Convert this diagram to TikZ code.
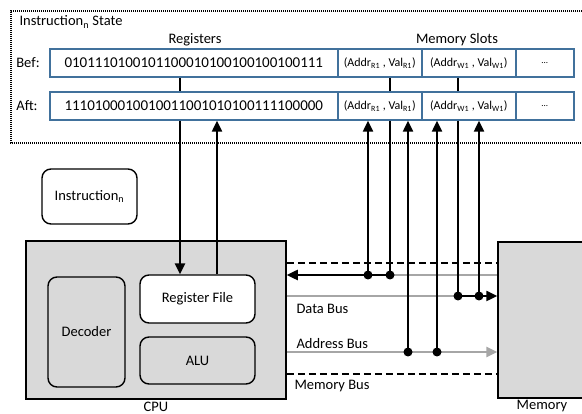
\documentclass[tikz,border=0pt]{standalone}
\usepackage{fontspec}
\setmainfont{Carlito}
\usetikzlibrary{arrows.meta}
\definecolor{cellblue}{HTML}{41719C}
\definecolor{busgray}{HTML}{A6A6A6}
\definecolor{cpugray}{HTML}{D9D9D9}
\begin{document}
\begin{tikzpicture}[x=1pt, y=-1pt, font=\fontsize{14.5}{17}\selectfont,
	cell/.style={draw=cellblue, line width=1.5pt, fill=white, minimum height=28pt, inner sep=0pt, anchor=west},
	blk/.style={draw, rounded corners=9pt, line width=1.4pt, inner sep=0pt},
	wire/.style={line width=2.4pt},
	bus/.style={line width=2.5pt, busgray},
	>={Triangle[length=11pt, width=10pt]}]
	\clip (0,0) rectangle (582,414);
	
	% Zustand der Instruktion
	\draw[line width=1.2pt, dash pattern=on 1pt off 1pt] (600,11) -- (11,11) -- (11,143) -- (600,143);
	\node[anchor=west] (title) at (16,22) {Instruction\textsubscript{n} State};
	\node (reglbl) at (195,40) {Registers};
	\node (memlbl) at (457,40) {Memory Slots};
	\node (beflbl) at (28,63) {Bef:};
	\node (aftlbl) at (27,106) {Aft:};
	
	% Bef
	\node[cell, minimum width=288pt, font=\fontsize{15}{17}\selectfont] (bReg) at (49,63) {0101110100101100010100100100100111};
	\node[cell, minimum width=84pt, font=\fontsize{12}{14}\selectfont] (bM1) at (337,63) {(Addr\textsubscript{R1} , Val\textsubscript{R1})};
	\node[cell, minimum width=94pt, font=\fontsize{12}{14}\selectfont] (bM2) at (421,63) {(Addr\textsubscript{W1} , Val\textsubscript{W1})};
	\node[cell, minimum width=58pt, font=\fontsize{9}{11}\selectfont] (bM3) at (515,63) {...};
	
	% Aft
	\node[cell, minimum width=288pt, font=\fontsize{15}{17}\selectfont] (aReg) at (49,106) {1110100010010011001010100111100000};
	\node[cell, minimum width=84pt, font=\fontsize{12}{14}\selectfont] (aM1) at (337,106) {(Addr\textsubscript{R1} , Val\textsubscript{R1})};
	\node[cell, minimum width=94pt, font=\fontsize{12}{14}\selectfont] (aM2) at (421,106) {(Addr\textsubscript{W1} , Val\textsubscript{W1})};
	\node[cell, minimum width=58pt, font=\fontsize{9}{11}\selectfont] (aM3) at (515,106) {...};
	
	% CPU und Speicher
	\node[blk, fill=white, minimum width=95pt, minimum height=55pt] (instr) at (89.5,196.5) {Instruction\textsubscript{n}};
	\node[draw, line width=1.5pt, fill=cpugray, minimum width=260pt, minimum height=158pt] (cpu) at (156,320) {};
	\node[draw, line width=1.5pt, fill=cpugray, minimum width=88pt, minimum height=156pt] (mem) at (542,320) {};
	\node[blk, minimum width=77pt, minimum height=110pt] (dec) at (86.5,332) {Decoder};
	\node[blk, fill=white, minimum width=115pt, minimum height=48pt] (rf) at (197.5,299) {Register File};
	\node[blk, minimum width=115pt, minimum height=47pt] (alu) at (197.5,360.5) {ALU};
	\node[inner sep=0pt] (cpulbl) at (156,406.5) {CPU};
	\node[inner sep=0pt] (memlbl2) at (542,406.5) {Memory};
	
	% Bus
	\coordinate (bt) at (0,263);
	\coordinate (bb) at (0,374);
	\draw[line width=1.5pt, dash pattern=on 7pt off 4pt] (cpu.east |- bt) -- (mem.west |- bt);
	\draw[line width=1.5pt, dash pattern=on 7pt off 4pt] (cpu.east |- bb) -- (mem.west |- bb);
	\node[anchor=west] (dbus) at (293,309) {Data Bus};
	\node[anchor=west] (abus) at (293,344) {Address Bus};
	\node[anchor=west] (mbus) at (291,386) {Memory Bus};
	
	\coordinate (rdn) at (180,0);
	\coordinate (rup) at (217,0);
	\coordinate (d1) at (368,275);
	\coordinate (d2) at (390,275);
	\coordinate (d3) at (408,352);
	\coordinate (d4) at (437,352);
	\coordinate (d5) at (458,296);
	\coordinate (d6) at (479,296);
	
	\draw[bus] (d2) -- (d2 -| mem.west);
	\draw[bus] (d5 -| cpu.east) -- (d5);
	\draw[bus, ->] (d3 -| cpu.east) -- (d3 -| mem.west);
	\draw[wire, ->] (d2) -- (d2 -| cpu.east);
	\draw[wire, ->] (d5) -- (d5 -| mem.west);
	
	% Register
	\draw[wire] (bReg.south -| rdn) -- (aReg.north -| rdn);
	\draw[wire, ->] (aReg.south -| rdn) -- (rf.north -| rdn);
	\draw[wire, ->] (rf.north -| rup) -- (aReg.south -| rup);
	
	% Speicher
	\draw[wire] (bM1.south -| d2) -- (aM1.north -| d2);
	\draw[wire] (aM1.south -| d2) -- (d2);
	\draw[wire] (bM2.south -| d5) -- (aM2.north -| d5);
	\draw[wire] (aM2.south -| d5) -- (d5);
	\draw[wire, ->] (d1) -- (aM1.south -| d1);
	\draw[wire, ->] (d3) -- (aM1.south -| d3);
	\draw[wire, ->] (d4) -- (aM2.south -| d4);
	\draw[wire, ->] (d6) -- (aM2.south -| d6);
	\foreach \d in {d1,d2,d3,d4,d5,d6}
		\fill (\d) circle (4.5);
\end{tikzpicture}
\end{document}
